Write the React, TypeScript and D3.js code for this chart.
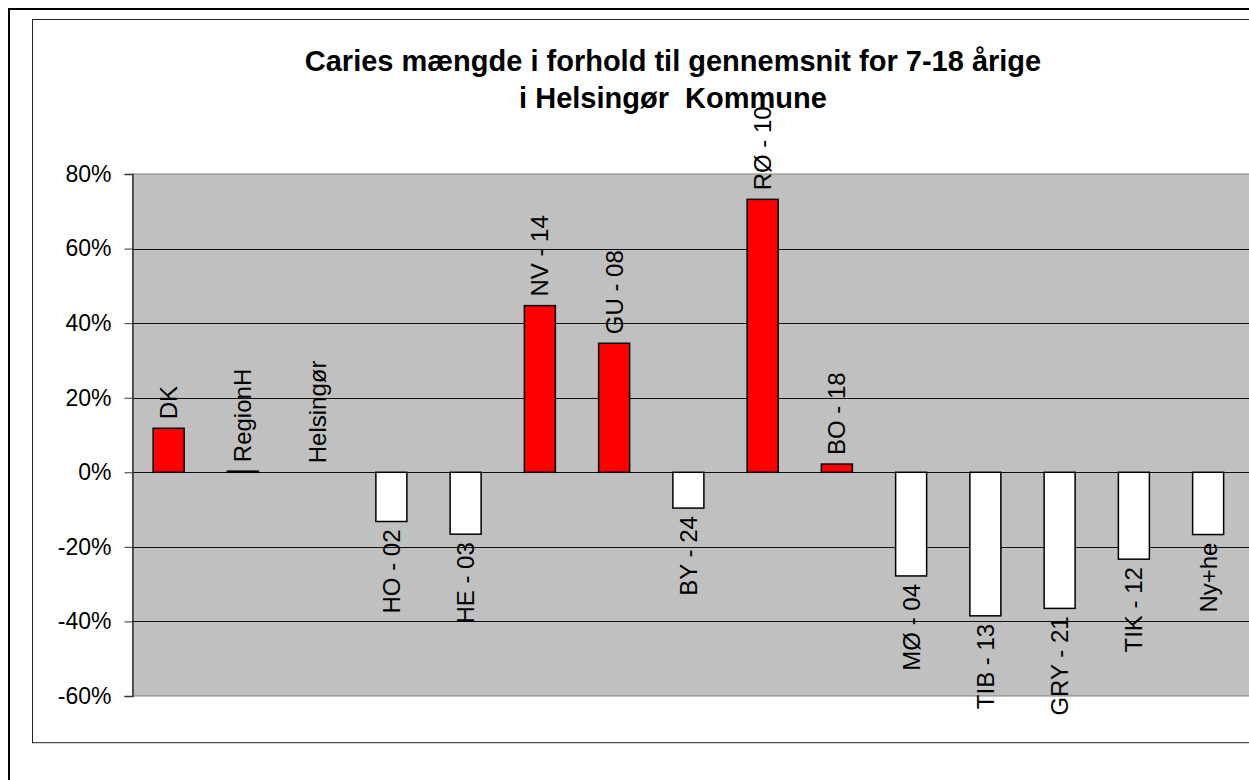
import React, { useRef, useEffect } from 'react';
import * as d3 from 'd3';

const categories = [
  'DK', 'RegionH', 'Helsingør', 'HO - 02', 'HE - 03', 'NV - 14', 'GU - 08',
  'BY - 24', 'RØ - 10', 'BO - 18', 'MØ - 04', 'TIB - 13', 'GRY - 21', 'TIK - 12', 'Ny+he',
];
// percent deviation from the municipal average
const values = [11.8, 0.3, 0, -13.2, -16.6, 44.7, 34.6, -9.6, 73.2, 2.2, -27.8, -38.5, -36.5, -23.3, -16.7];
const yTicks = [-60, -40, -20, 0, 20, 40, 60, 80];
const titleLines = ['Caries mængde i forhold til gennemsnit for 7-18 årige', 'i Helsingør  Kommune'];

const W = 1249;
const H = 780;

const App: React.FC = () => {
  const svgRef = useRef<SVGSVGElement>(null);

  useEffect(() => {
    if (!svgRef.current) return;
    const svg = d3.select(svgRef.current);
    svg.selectAll('*').remove();

    const plot = { left: 132.5, top: 174, bottom: 696 };
    const step = 74.25;

    const x = d3
      .scaleBand<string>()
      .domain(categories)
      .range([131.5, 131.5 + step * categories.length]);
    const y = d3.scaleLinear().domain([-60, 80]).range([plot.bottom, plot.top]);
    const barW = 31;

    // outer frame and chart area
    svg.append('rect').attr('width', W).attr('height', H).attr('fill', '#fff');
    svg
      .append('rect')
      .attr('x', 9)
      .attr('y', 9)
      .attr('width', W + 20)
      .attr('height', H + 20)
      .attr('fill', 'none')
      .attr('stroke', '#000')
      .attr('stroke-width', 2);
    svg
      .append('rect')
      .attr('x', 32.5)
      .attr('y', 19.5)
      .attr('width', W + 20)
      .attr('height', 742.7 - 19.5)
      .attr('fill', 'none')
      .attr('stroke', '#222')
      .attr('stroke-width', 1);

    // plot area
    svg
      .append('rect')
      .attr('x', plot.left)
      .attr('y', plot.top)
      .attr('width', W + 20 - plot.left)
      .attr('height', plot.bottom - plot.top)
      .attr('fill', '#C0C0C0')
      .attr('stroke', '#808080')
      .attr('stroke-width', 1);

    // gridlines
    svg
      .append('g')
      .selectAll('line')
      .data(yTicks.filter((t) => t !== -60 && t !== 80))
      .enter()
      .append('line')
      .attr('x1', plot.left)
      .attr('x2', W + 20)
      .attr('y1', (d) => Math.round(y(d)) + 0.5)
      .attr('y2', (d) => Math.round(y(d)) + 0.5)
      .attr('stroke', '#111')
      .attr('stroke-width', 1);

    // y axis
    const yAxis = d3
      .axisLeft(y)
      .tickValues(yTicks)
      .tickSize(8)
      .tickPadding(13)
      .tickFormat((d) => `${d}%`);
    const gy = svg.append('g').attr('transform', `translate(${plot.left},0)`).call(yAxis);
    gy.select('.domain').attr('stroke', '#333').attr('stroke-width', 1.5);
    gy.selectAll('.tick line').attr('stroke', '#333');
    gy.selectAll('.tick text')
      .attr('fill', '#000')
      .attr('font-family', 'Liberation Sans, Arial, sans-serif')
      .attr('font-size', 23);

    // bars
    svg
      .append('g')
      .selectAll('rect')
      .data(categories)
      .enter()
      .append('rect')
      .attr('x', (d) => (x(d) as number) + x.bandwidth() / 2 - barW / 2)
      .attr('y', (d, i) => y(Math.max(0, values[i])))
      .attr('width', barW)
      .attr('height', (d, i) => Math.abs(y(values[i]) - y(0)))
      .attr('fill', (d, i) => (values[i] > 0 ? '#FF0000' : '#FFFFFF'))
      .attr('stroke', '#000')
      .attr('stroke-width', 1.5)
      .attr('display', (d, i) => (values[i] === 0 ? 'none' : null));

    // category labels
    svg
      .append('g')
      .selectAll('text')
      .data(categories)
      .enter()
      .append('text')
      .attr('transform', (d, i) => {
        const cx = (x(d) as number) + x.bandwidth() / 2;
        const ty = values[i] >= 0 ? y(values[i]) - 9 : y(values[i]) + 8;
        return `translate(${cx},${ty}) rotate(-90)`;
      })
      .attr('text-anchor', (d, i) => (values[i] >= 0 ? 'start' : 'end'))
      .attr('dy', '0.35em')
      .attr('font-family', 'Liberation Sans, Arial, sans-serif')
      .attr('font-size', 24)
      .attr('fill', '#000')
      .text((d) => d);

    // title
    svg
      .append('text')
      .attr('x', 673)
      .attr('y', 71)
      .attr('text-anchor', 'middle')
      .attr('font-family', 'Liberation Sans, Arial, sans-serif')
      .attr('font-size', 29)
      .attr('font-weight', 'bold')
      .selectAll('tspan')
      .data(titleLines)
      .enter()
      .append('tspan')
      .attr('x', 673)
      .attr('dy', (d, i) => (i === 0 ? 0 : 37))
      .style('white-space', 'pre')
      .text((d) => d);
  }, []);

  return (
    <div style={{ position: 'absolute', left: 0, top: 0 }}>
      <svg ref={svgRef} width={W} height={H} style={{ display: 'block' }} />
    </div>
  );
};

export default App;
